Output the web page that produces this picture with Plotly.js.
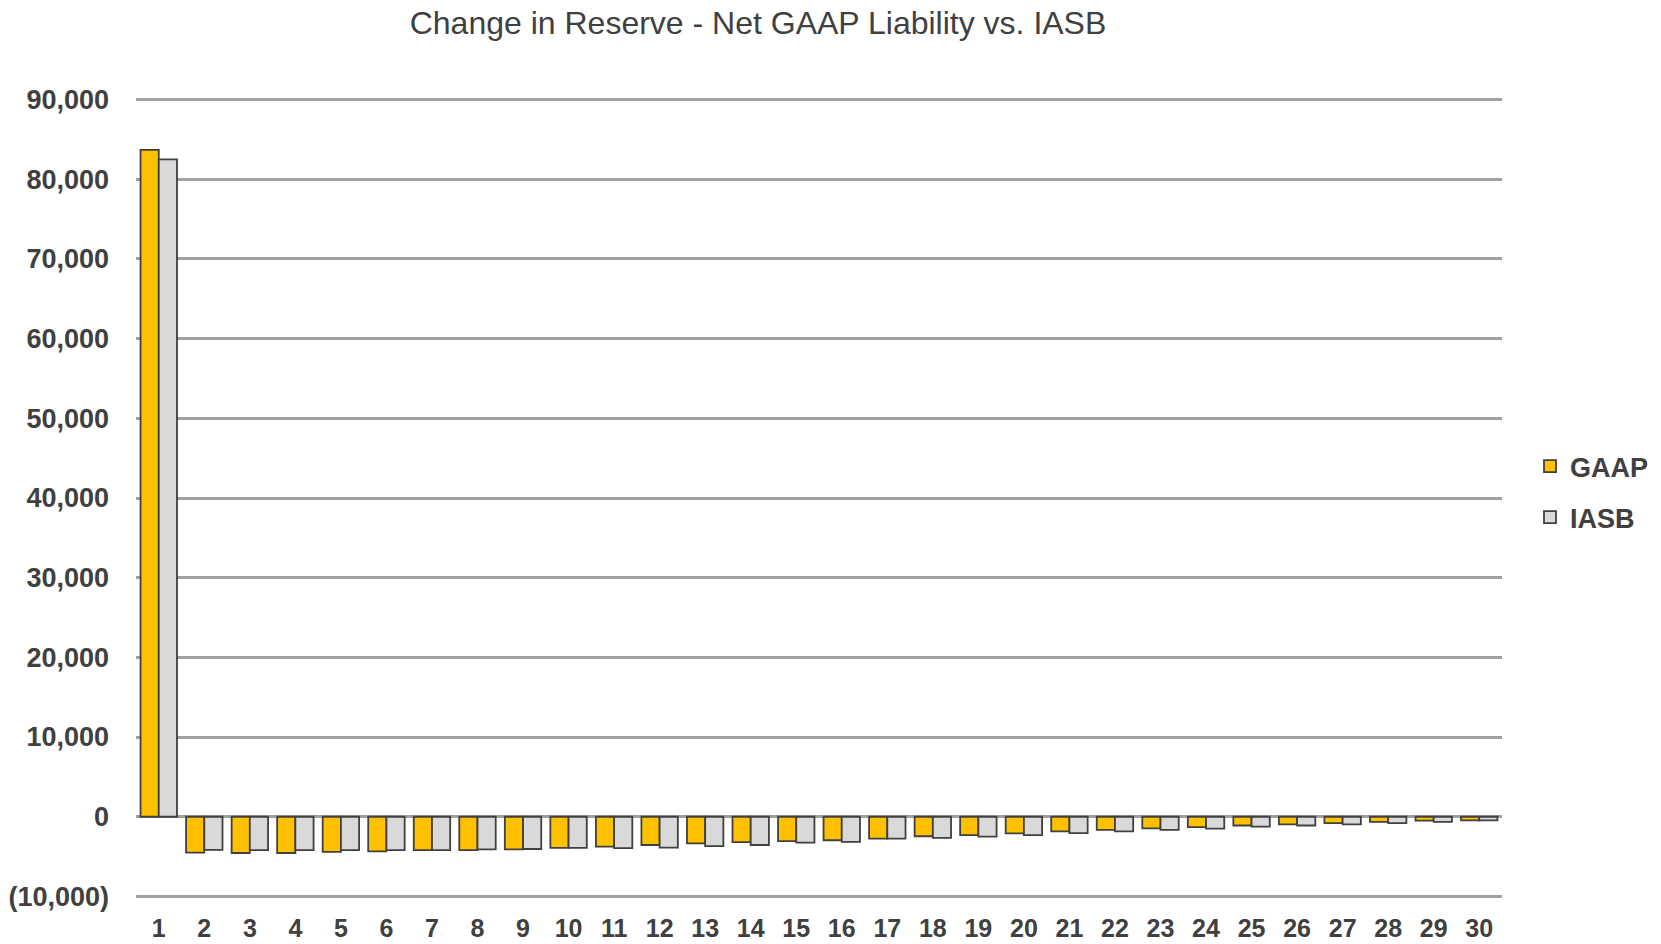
<!DOCTYPE html>
<html>
<head>
<meta charset="utf-8">
<script src="https://cdn.plot.ly/plotly-3.0.1.min.js"></script>
<style>
  html, body { margin: 0; padding: 0; background: #ffffff; }
  #chart { width: 1661px; height: 944px; }
</style>
</head>
<body>
<div id="chart"></div>
<script>
const categories = ["1","2","3","4","5","6","7","8","9","10","11","12","13","14","15","16","17","18","19","20","21","22","23","24","25","26","27","28","29","30"];
const gaapValues = [83700, -4500, -4550, -4550, -4400, -4350, -4200, -4200, -4100, -3900, -3750, -3550, -3350, -3200, -3050, -2950, -2750, -2450, -2300, -2100, -1850, -1650, -1450, -1300, -1100, -950, -800, -650, -500, -450];
const iasbValues = [82500, -4150, -4200, -4200, -4200, -4200, -4200, -4100, -4050, -3900, -3950, -3880, -3700, -3550, -3250, -3150, -2750, -2650, -2500, -2300, -2050, -1850, -1650, -1500, -1250, -1100, -950, -800, -650, -450];
const yTickValues = [-10000, 0, 10000, 20000, 30000, 40000, 50000, 60000, 70000, 80000, 90000];
const yTickLabels = ["(10,000)", "0", "10,000", "20,000", "30,000", "40,000", "50,000", "60,000", "70,000", "80,000", "90,000"];
const seriesNames = ["GAAP", "IASB"];
const titleText = "Change in Reserve - Net GAAP Liability vs. IASB";

const fam = "Liberation Sans, Arial, sans-serif";
const xTickFont = { family: fam, size: 25, color: "#404040", weight: "bold" };
const yTickFont = { family: fam, size: 27, color: "#404040", weight: "bold" };

const traces = [
  {
    type: "bar", name: seriesNames[0], x: categories, y: gaapValues,
    legendgroup: "g1",
    marker: { color: "#FFC000", line: { color: "#404040", width: 1.8 } }
  },
  {
    type: "bar", name: seriesNames[1], x: categories, y: iasbValues,
    legendgroup: "g2",
    marker: { color: "#D9D9D9", line: { color: "#404040", width: 1.8 } }
  }
];

const layout = {
  width: 1661, height: 944,
  paper_bgcolor: "#ffffff", plot_bgcolor: "#ffffff",
  margin: { l: 136, r: 159, t: 97.7, b: 45.6, pad: 0 },
  barmode: "group", bargap: 0.2, bargroupgap: 0,
  title: {
    text: titleText,
    font: { family: fam, size: 32, color: "#404040" },
    x: 758 / 1661, xanchor: "center", xref: "container",
    y: 1 - 23 / 944, yanchor: "middle", yref: "container"
  },
  xaxis: {
    type: "category", tickfont: xTickFont,
    showgrid: false, zeroline: false, showline: false,
    ticks: "", ticklabelstandoff: 13, fixedrange: true
  },
  yaxis: {
    range: [-10200, 90200], tickvals: yTickValues, ticktext: yTickLabels,
    tickfont: yTickFont, showgrid: true, gridcolor: "#a0a0a0", gridwidth: 3,
    zeroline: true, zerolinecolor: "#a0a0a0", zerolinewidth: 3,
    showline: false, ticks: "", ticklabelstandoff: 26, fixedrange: true
  },
  showlegend: true,
  legend: {
    x: 1530 / 1661, xref: "container", xanchor: "left",
    y: 1 - 492 / 944, yref: "container", yanchor: "middle",
    font: { family: fam, size: 27, color: "#404040", weight: "bold" },
    traceorder: "grouped", tracegroupgap: 13,
    bgcolor: "rgba(0,0,0,0)", borderwidth: 0
  }
};

Plotly.newPlot("chart", traces, layout, { displayModeBar: false, staticPlot: true });
</script>
</body>
</html>
